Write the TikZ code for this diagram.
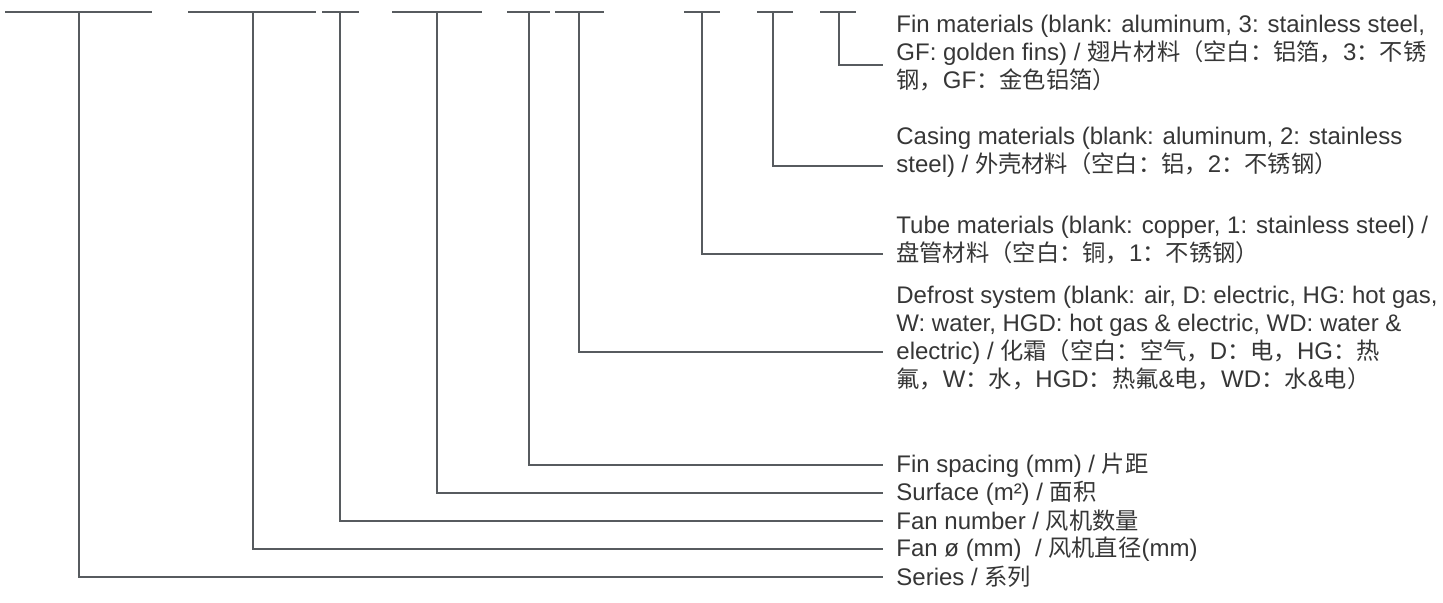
\documentclass[tikz,border=0pt]{standalone}
\usepackage{fontspec}
\setmainfont{Liberation Sans}
\newfontfamily\zhfont[Scale=0.97]{Noto Sans CJK SC}
\newcommand{\zw}[1]{{\zhfont #1}}
\usetikzlibrary{positioning}
\definecolor{leadgray}{HTML}{575B5F}
\definecolor{txtgray}{HTML}{363636}
\tikzset{
  bar/.style={draw=leadgray, line width=1pt},
  lead/.style={draw=leadgray, line width=1pt},
  lbl/.style={align=left, inner sep=0pt, text=txtgray, font=\fontsize{12}{14}\selectfont},
}

\begin{document}
\begin{tikzpicture}[x=0.5pt, y=-0.5pt]
    \useasboundingbox (0,0) rectangle (1443,603);
    % code bars
    \draw[bar] (5,12.5) -- (152,12.5);
    \draw[bar] (188,12.5) -- (316,12.5);
    \draw[bar] (322,12.5) -- (359,12.5);
    \draw[bar] (392,12.5) -- (482,12.5);
    \draw[bar] (507,12.5) -- (550,12.5);
    \draw[bar] (555,12.5) -- (604,12.5);
    \draw[bar] (684,12.5) -- (720,12.5);
    \draw[bar] (757,12.5) -- (793,12.5);
    \draw[bar] (820,12.5) -- (856,12.5);
    \coordinate (series) at (79,12.5);
    \coordinate (fandia) at (253,12.5);
    \coordinate (fannum) at (340,12.5);
    \coordinate (surface) at (437,12.5);
    \coordinate (finsp) at (529,12.5);
    \coordinate (defrost) at (579,12.5);
    \coordinate (tube) at (702,12.5);
    \coordinate (casing) at (773,12.5);
    \coordinate (finmat) at (839,12.5);
    % leader ends
    \coordinate (seriesend) at (883,577);
    \coordinate (fandiaend) at (883,549);
    \coordinate (fannumend) at (883,521);
    \coordinate (surfaceend) at (883,493);
    \coordinate (finspend) at (883,465);
    \coordinate (defrostend) at (883,352);
    \coordinate (tubeend) at (883,254);
    \coordinate (casingend) at (883,166);
    \coordinate (finmatend) at (883,65);
    % labels
    \node[lbl, right=6.5pt of finmatend, yshift=6pt] (finmatlbl)
      {Fin materials (blank: aluminum, 3: stainless steel,\\
       GF: golden fins) / \zw{翅片材料（空白：铝箔，}3\zw{：不锈}\\
       \zw{钢，}GF\zw{：金色铝箔）}};
    \node[lbl, right=6.5pt of casingend, yshift=7pt] (casinglbl)
      {Casing materials (blank: aluminum, 2: stainless\\
       steel) / \zw{外壳材料（空白：铝，}2\zw{：不锈钢）}};
    \node[lbl, right=6.5pt of tubeend, yshift=7pt] (tubelbl)
      {Tube materials (blank: copper, 1: stainless steel) /\\
       \zw{盘管材料（空白：铜，}1\zw{：不锈钢）}};
    \node[lbl, right=6.5pt of defrostend, yshift=7pt] (defrostlbl)
      {Defrost system (blank: air, D: electric, HG: hot gas,\\
       W: water, HGD: hot gas \& electric, WD: water \&\\
       electric) / \zw{化霜（空白：空气，}D\zw{：电，}HG\zw{：热}\\
       \zw{氟，}W\zw{：水，}HGD\zw{：热氟}\&\zw{电，}WD\zw{：水}\&\zw{电）}};
    \node[lbl, right=6.5pt of finspend] (finsplbl) {Fin spacing (mm) / \zw{片距}};
    \node[lbl, right=6.5pt of surfaceend] (surfacelbl) {Surface (m²) / \zw{面积}};
    \node[lbl, right=6.5pt of fannumend] (fannumlbl) {Fan number / \zw{风机数量}};
    \node[lbl, right=6.5pt of fandiaend] (fandialbl) {Fan ø (mm)~ / \zw{风机直径}(mm)};
    \node[lbl, right=6.5pt of seriesend] (serieslbl) {Series / \zw{系列}};
    % leaders
    \draw[lead] (finmat) |- (finmatend);
    \draw[lead] (casing) |- (casingend);
    \draw[lead] (tube) |- (tubeend);
    \draw[lead] (defrost) |- (defrostend);
    \draw[lead] (finsp) |- (finspend);
    \draw[lead] (surface) |- (surfaceend);
    \draw[lead] (fannum) |- (fannumend);
    \draw[lead] (fandia) |- (fandiaend);
    \draw[lead] (series) |- (seriesend);
  \end{tikzpicture}
\end{document}
